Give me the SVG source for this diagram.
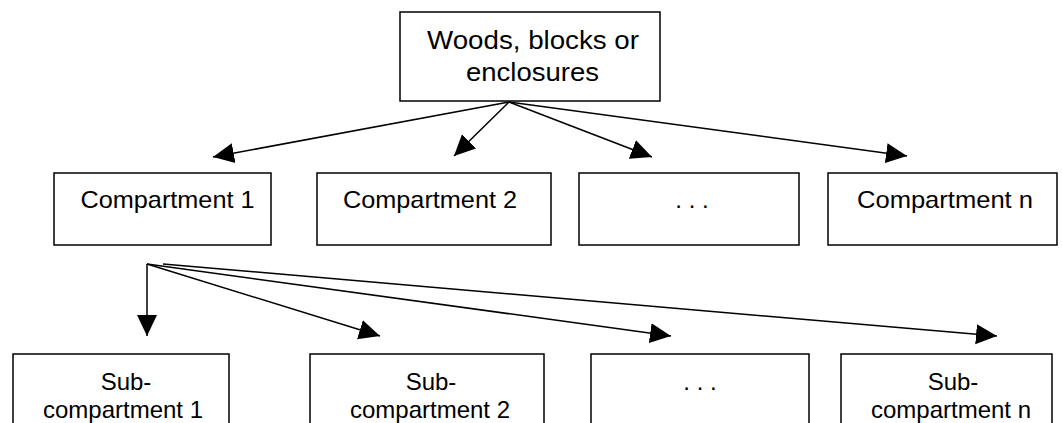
<svg xmlns="http://www.w3.org/2000/svg" width="1062" height="423" viewBox="0 0 1062 423">
  <style>
    .box { fill: #ffffff; stroke: #000000; stroke-width: 1.5; }
    .lbl { font-family: "Liberation Sans", Arial, sans-serif; font-size: 24px; fill: #000000; text-anchor: middle; }
    .big { font-size: 26px; }
    .link { fill: none; stroke: #000000; stroke-width: 1.5; marker-end: url(#head); }
  </style>
  <defs>
    <marker id="head" viewBox="0 0 22 22" refX="21" refY="11" markerWidth="22" markerHeight="22" markerUnits="userSpaceOnUse" orient="auto">
      <path d="M0,1 L21,11 L0,21 z" fill="#000000"/>
    </marker>
  </defs>
  <rect width="1062" height="423" fill="#ffffff"/>

  <!-- root -->
  <g id="woods">
    <rect class="box" x="400" y="12" width="260" height="89"/>
    <text class="lbl big" x="533" y="49" textLength="212" lengthAdjust="spacingAndGlyphs">Woods, blocks or</text>
    <text class="lbl big" x="532.5" y="81" textLength="133" lengthAdjust="spacingAndGlyphs">enclosures</text>
  </g>

  <!-- compartments -->
  <g id="compartment-1">
    <rect class="box" x="54" y="173" width="217" height="72"/>
    <text class="lbl" x="167.5" y="208" textLength="174" lengthAdjust="spacingAndGlyphs">Compartment 1</text>
  </g>
  <g id="compartment-2">
    <rect class="box" x="317" y="173" width="234" height="72"/>
    <text class="lbl" x="430" y="208" textLength="174" lengthAdjust="spacingAndGlyphs">Compartment 2</text>
  </g>
  <g id="compartment-etc">
    <rect class="box" x="579" y="173" width="220" height="72"/>
    <text class="lbl" x="692" y="208">. . .</text>
  </g>
  <g id="compartment-n">
    <rect class="box" x="828" y="173" width="229" height="72"/>
    <text class="lbl" x="945" y="208" textLength="176" lengthAdjust="spacingAndGlyphs">Compartment n</text>
  </g>

  <!-- sub-compartments (bottom edges run past the lower border) -->
  <g id="sub-compartment-1">
    <rect class="box" x="13" y="354" width="216" height="80"/>
    <text class="lbl" x="126" y="390">Sub-</text>
    <text class="lbl" x="123" y="418">compartment 1</text>
  </g>
  <g id="sub-compartment-2">
    <rect class="box" x="310" y="354" width="234" height="80"/>
    <text class="lbl" x="431" y="390">Sub-</text>
    <text class="lbl" x="430" y="418">compartment 2</text>
  </g>
  <g id="sub-compartment-etc">
    <rect class="box" x="591" y="354" width="218" height="80"/>
    <text class="lbl" x="700" y="390">. . .</text>
  </g>
  <g id="sub-compartment-n">
    <rect class="box" x="841" y="354" width="211" height="80"/>
    <text class="lbl" x="953" y="390">Sub-</text>
    <text class="lbl" x="951" y="418">compartment n</text>
  </g>

  <!-- connectors -->
  <g id="connectors">
    <line class="link" x1="509" y1="102" x2="213" y2="157"/>
    <line class="link" x1="509" y1="102" x2="454" y2="156"/>
    <line class="link" x1="509" y1="102" x2="652" y2="157"/>
    <line class="link" x1="509" y1="102" x2="907" y2="156"/>

    <line class="link" x1="147" y1="264" x2="147" y2="336"/>
    <line class="link" x1="147" y1="264" x2="380" y2="336"/>
    <line class="link" x1="147" y1="264" x2="671" y2="336"/>
    <line class="link" x1="163" y1="264" x2="997" y2="336"/>
  </g>
</svg>
